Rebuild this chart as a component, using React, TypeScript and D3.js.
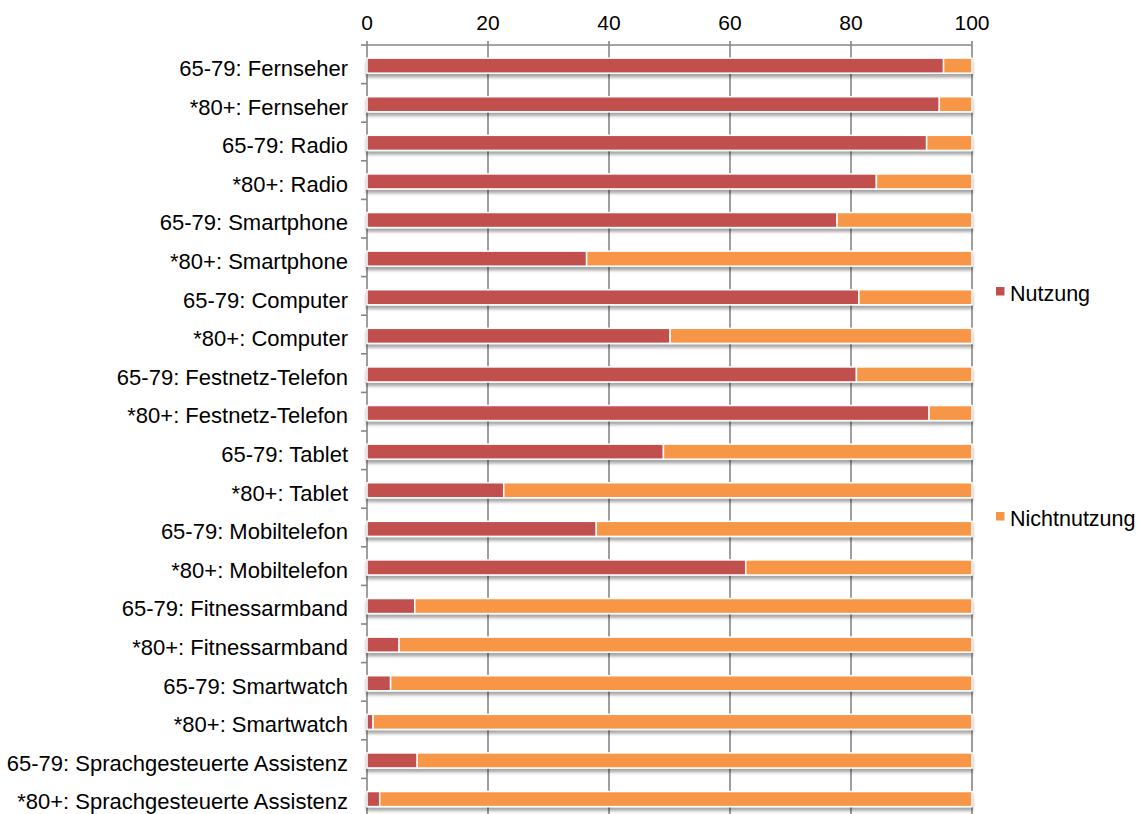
import React from "react";
import * as d3 from "d3";

const categories: string[] = [
  "65-79: Fernseher",
  "*80+: Fernseher",
  "65-79: Radio",
  "*80+: Radio",
  "65-79: Smartphone",
  "*80+: Smartphone",
  "65-79: Computer",
  "*80+: Computer",
  "65-79: Festnetz-Telefon",
  "*80+: Festnetz-Telefon",
  "65-79: Tablet",
  "*80+: Tablet",
  "65-79: Mobiltelefon",
  "*80+: Mobiltelefon",
  "65-79: Fitnessarmband",
  "*80+: Fitnessarmband",
  "65-79: Smartwatch",
  "*80+: Smartwatch",
  "65-79: Sprachgesteuerte Assistenz",
  "*80+: Sprachgesteuerte Assistenz",
];

const nutzung: number[] = [
  95.3, 94.6, 92.5, 84.2, 77.7, 36.3, 81.3, 50.1, 80.9, 92.9,
  49.0, 22.6, 37.9, 62.6, 7.9, 5.3, 3.9, 1.0, 8.3, 2.1,
];
const nichtnutzung: number[] = nutzung.map((v) => 100 - v);

const ticks: number[] = [0, 20, 40, 60, 80, 100];
const seriesNames: string[] = ["Nutzung", "Nichtnutzung"];
const colors: string[] = ["#C0504D", "#F79646"];

export default function App() {
  const W = 1141;
  const H = 814;
  const left = 367;
  const right = 972;
  const top = 45;
  const bottom = 817;
  const x = d3.scaleLinear().domain([0, 100]).range([left, right]);
  const y = d3.scaleBand<string>().domain(categories).range([top, bottom]).padding(0);
  const step = y.step();
  const barOff = step * 0.34;
  const barH = step * 0.39;
  const font = "'Liberation Sans', Arial, Helvetica, sans-serif";
  const grid = "#868686";

  return (
    <svg width={W} height={H} style={{ position: "absolute", left: 0, top: 0 }}>
      <defs>
        <filter id="shadow" x="-5%" y="-50%" width="110%" height="250%">
          <feDropShadow dx="0" dy="3.5" stdDeviation="1.8" floodColor="#000" floodOpacity="0.35" />
        </filter>
      </defs>
      <rect x={0} y={0} width={W} height={H} fill="#fff" />
      {/* gridlines */}
      {ticks.map((t) => (
        <line key={"g" + t} x1={x(t)} x2={x(t)} y1={top - 4} y2={bottom} stroke={grid} strokeWidth={1.6} />
      ))}
      {/* top axis */}
      <line x1={left} x2={right} y1={top} y2={top} stroke={grid} strokeWidth={1.6} />
      {ticks.map((t) => (
        <text key={"t" + t} x={x(t)} y={30} textAnchor="middle" fontFamily={font} fontSize={21} fill="#000">
          {t}
        </text>
      ))}
      {/* left axis ticks */}
      {categories.map((c) => (
        <line key={"lt" + c} x1={left - 6} x2={left} y1={y(c)!} y2={y(c)!} stroke={grid} strokeWidth={1.6} />
      ))}
      {/* bars */}
      {categories.map((c, i) => {
        const by = y(c)! + barOff;
        return (
          <g key={"b" + c} filter="url(#shadow)">
            <rect x={x(0)} y={by} width={x(nutzung[i]) - x(0)} height={barH} fill={colors[0]} stroke="#fff" strokeWidth={1.5} />
            <rect x={x(nutzung[i])} y={by} width={x(nutzung[i] + nichtnutzung[i]) - x(nutzung[i])} height={barH} fill={colors[1]} stroke="#fff" strokeWidth={1.5} />
          </g>
        );
      })}
      {/* category labels */}
      {categories.map((c) => (
        <text key={"l" + c} x={348} y={y(c)! + 31} textAnchor="end" fontFamily={font} fontSize={22} fill="#000">
          {c}
        </text>
      ))}
      {/* legend */}
      {seriesNames.map((s, i) => {
        const ly = i === 0 ? 301 : 526;
        return (
          <g key={"lg" + s}>
            <rect x={996} y={ly - 14} width={8.5} height={8.5} fill={colors[i]} />
            <text x={1010} y={ly} fontFamily={font} fontSize={21.5} fill="#000">
              {s}
            </text>
          </g>
        );
      })}
    </svg>
  );
}
